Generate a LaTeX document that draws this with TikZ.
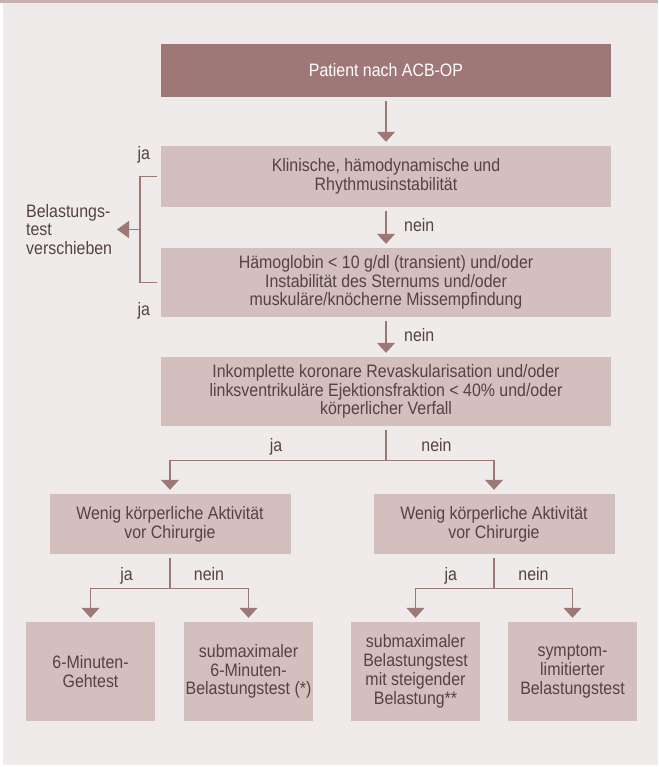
\documentclass[tikz,border=0pt]{standalone}
\usepackage{fontspec}
\setmainfont{Liberation Sans}[FakeStretch=0.885]
\usetikzlibrary{arrows.meta,calc}
\definecolor{panelbg}{HTML}{EFEBEA}
\definecolor{boxfill}{HTML}{D2BFBE}
\definecolor{darkfill}{HTML}{9E7777}
\definecolor{linec}{HTML}{9E7777}
\definecolor{txt}{HTML}{554242}
\definecolor{band}{HTML}{C8B1AF}
\begin{document}
\begin{tikzpicture}[x=1pt,y=-1pt,
  txtfont/.style={font=\fontsize{18}{18.8}\selectfont},
  box/.style={txtfont, fill=boxfill, text=txt, inner sep=0pt, align=center},
  bigbox/.style={box, minimum width=450pt},
  midbox/.style={box, minimum width=241pt, minimum height=60pt},
  endbox/.style={box, minimum width=129pt, minimum height=99pt},
  lbl/.style={txtfont, text=txt, inner sep=0pt},
  ln/.style={draw=linec, line width=1.3pt},
  arr/.style={ln, -{Triangle[length=10pt,width=18pt]}, shorten <=4pt, shorten >=4pt}
]
\useasboundingbox (0,0) rectangle (658,767);
\fill[white] (0,0) rectangle (658,767);
\fill[band] (0,0) rectangle (658,3);
\fill[panelbg] (3,3) rectangle (658,765);

% main column
\node[bigbox, minimum height=53pt, fill=darkfill, text=white] (top) at (386,70.5) {Patient nach ACB-OP};
\node[bigbox, minimum height=61pt] (k1) at (386,176.5) {Klinische, hämodynamische und\\Rhythmusinstabilität};
\node[bigbox, minimum height=69pt] (k2) at (386,282.5) {Hämoglobin < 10 g/dl (transient) und/oder\\Instabilität des Sternums und/oder\\muskuläre/knöcherne Missempfindung};
\node[bigbox, minimum height=69pt] (k3) at (386,391.5) {Inkomplette koronare Revaskularisation und/oder\\linksventrikuläre Ejektionsfraktion < 40\% und/oder\\körperlicher Verfall};

\node[midbox] (wL) at (170,524) {Wenig körperliche Aktivität\\vor Chirurgie};
\node[midbox] (wR) at (494,524) {Wenig körperliche Aktivität\\vor Chirurgie};

\node[endbox] (b1) at (90.5,671.5) {6-Minuten-\\Gehtest};
\node[endbox] (b2) at (248.5,671.5) {submaximaler\\6-Minuten-\\Belastungstest (*)};
\node[endbox] (b3) at (415.5,671.5) {submaximaler\\Belastungstest\\mit steigender\\Belastung**};
\node[endbox] (b4) at (572.5,671.5) {symptom-\\limitierter\\Belastungstest};

% vertical arrows
\draw[arr] (top) -- (k1);
\draw[arr] (k1) -- (k2);
\draw[arr] (k2) -- (k3);
\node[lbl, anchor=base west] (nein1) at (404,231) {nein};
\node[lbl, anchor=base west] (nein2) at (404,341) {nein};

% bracket to the left
\node[lbl, anchor=west, align=left] (vers) at (26,229.5) {Belastungs-\\test\\verschieben};
\node[lbl, anchor=base west] (jaA) at (137.5,160) {ja};
\node[lbl, anchor=base west] (jaB) at (137.5,315) {ja};
\coordinate (bt) at ($(k1.west)+(-4,0)$);
\coordinate (bb) at ($(k2.west)+(-4,0)$);
\coordinate (bv) at (140,229.5);
\coordinate (vtip) at (117,229.5);
\draw[ln] (bt) -- (bt -| bv) -- (bb -| bv) -- (bb);
\draw[ln, -{Triangle[length=12pt,width=17pt]}] (bv) -- (vtip);

% first branch
\coordinate (j1) at ($(k3.south)+(0,34)$);
\draw[ln, shorten <=4pt] (k3) -- (j1);
\draw[arr, shorten <=0pt] (j1) -| (wL);
\draw[arr, shorten <=0pt] (j1) -| (wR);
\node[lbl, anchor=base] (ja1) at (276,451) {ja};
\node[lbl, anchor=base] (ne1) at (436.5,451) {nein};

% second level branches
\coordinate (j2) at ($(wL.south)+(0,34)$);
\coordinate (j3) at ($(wR.south)+(0,34)$);
\draw[ln, shorten <=4pt] (wL) -- (j2);
\draw[ln, shorten <=4pt] (wR) -- (j3);
\draw[arr, shorten <=0pt] (j2) -| (b1);
\draw[arr, shorten <=0pt] (j2) -| (b2);
\draw[arr, shorten <=0pt] (j3) -| (b3);
\draw[arr, shorten <=0pt] (j3) -| (b4);
\node[lbl, anchor=base] (ja2) at (126.5,580) {ja};
\node[lbl, anchor=base] (ne2) at (209,580) {nein};
\node[lbl, anchor=base] (ja3) at (450.7,580) {ja};
\node[lbl, anchor=base] (ne3) at (533.5,580) {nein};
\end{tikzpicture}
\end{document}
